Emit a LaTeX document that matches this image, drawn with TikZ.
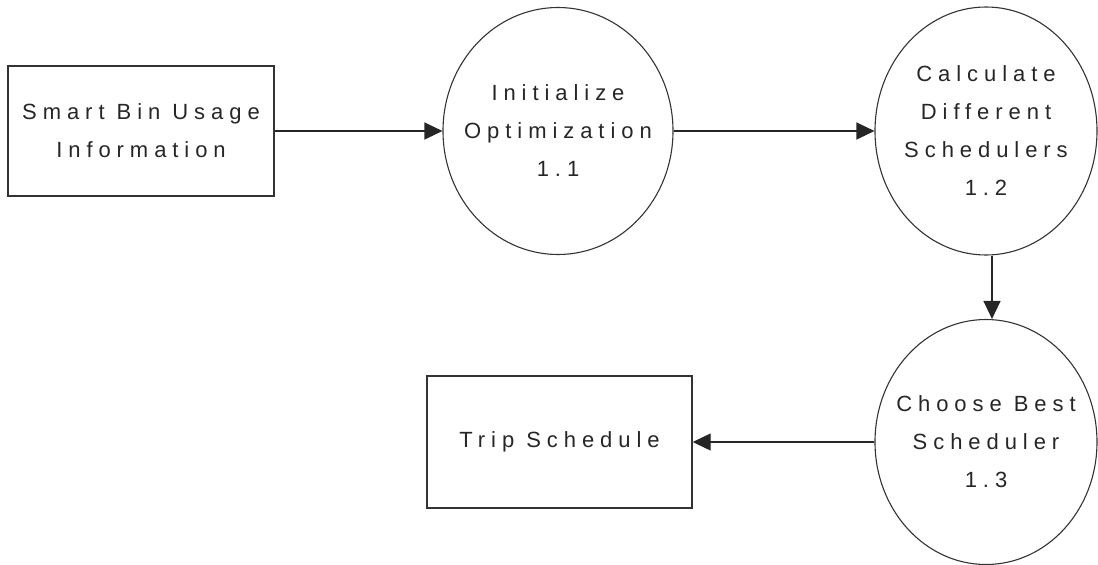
\documentclass[tikz,border=0pt]{standalone}
\usepackage{fontspec}
\setmainfont{Liberation Sans}[LetterSpace=27]
\usetikzlibrary{shapes.geometric,arrows.meta}

\tikzset{
  label text/.style={font=\fontsize{22}{38}\selectfont, text=black!85, align=center},
  store/.style={draw=black!80, line width=1.4pt, rectangle, inner sep=0pt, label text},
  process/.style={draw=black!80, line width=1.1pt, ellipse, inner sep=0pt},
  caption/.style={label={[label text, inner sep=0pt]center:#1}},
  flow/.style={draw=black!85, line width=1.2pt, -{Triangle[length=18pt,width=17pt]}}
}

\begin{document}
\begin{tikzpicture}[x=1pt,y=-1pt]
  \useasboundingbox (0,0) rectangle (1098,565);

  % data stores
  \node[store, minimum width=266pt, minimum height=130pt] (usage) at (141,131)
    {Smart Bin Usage\\Information};
  \node[store, minimum width=265pt, minimum height=132pt] (trip) at (559.5,442)
    {Trip Schedule};

  % processes (fixed size; the caption sits on the centre)
  \node[process, minimum width=230pt, minimum height=247pt,
        caption={Initialize\\Optimization\\1.1}] (init) at (558,131) {};
  \node[process, minimum width=222pt, minimum height=248pt,
        caption={Calculate\\Different\\Schedulers\\1.2}] (calc) at (986,131) {};
  \node[process, minimum width=222pt, minimum height=245pt,
        caption={Choose Best\\Scheduler\\1.3}] (best) at (986,442) {};

  % data flows
  \draw[flow] (usage.east) -- (init.west);
  \draw[flow] (init.east) -- (calc.west);
  \draw[flow] ([xshift=6pt]calc.south) -- ([xshift=6pt]best.north);
  \draw[flow] (best.west) -- (trip.east);
\end{tikzpicture}
\end{document}
